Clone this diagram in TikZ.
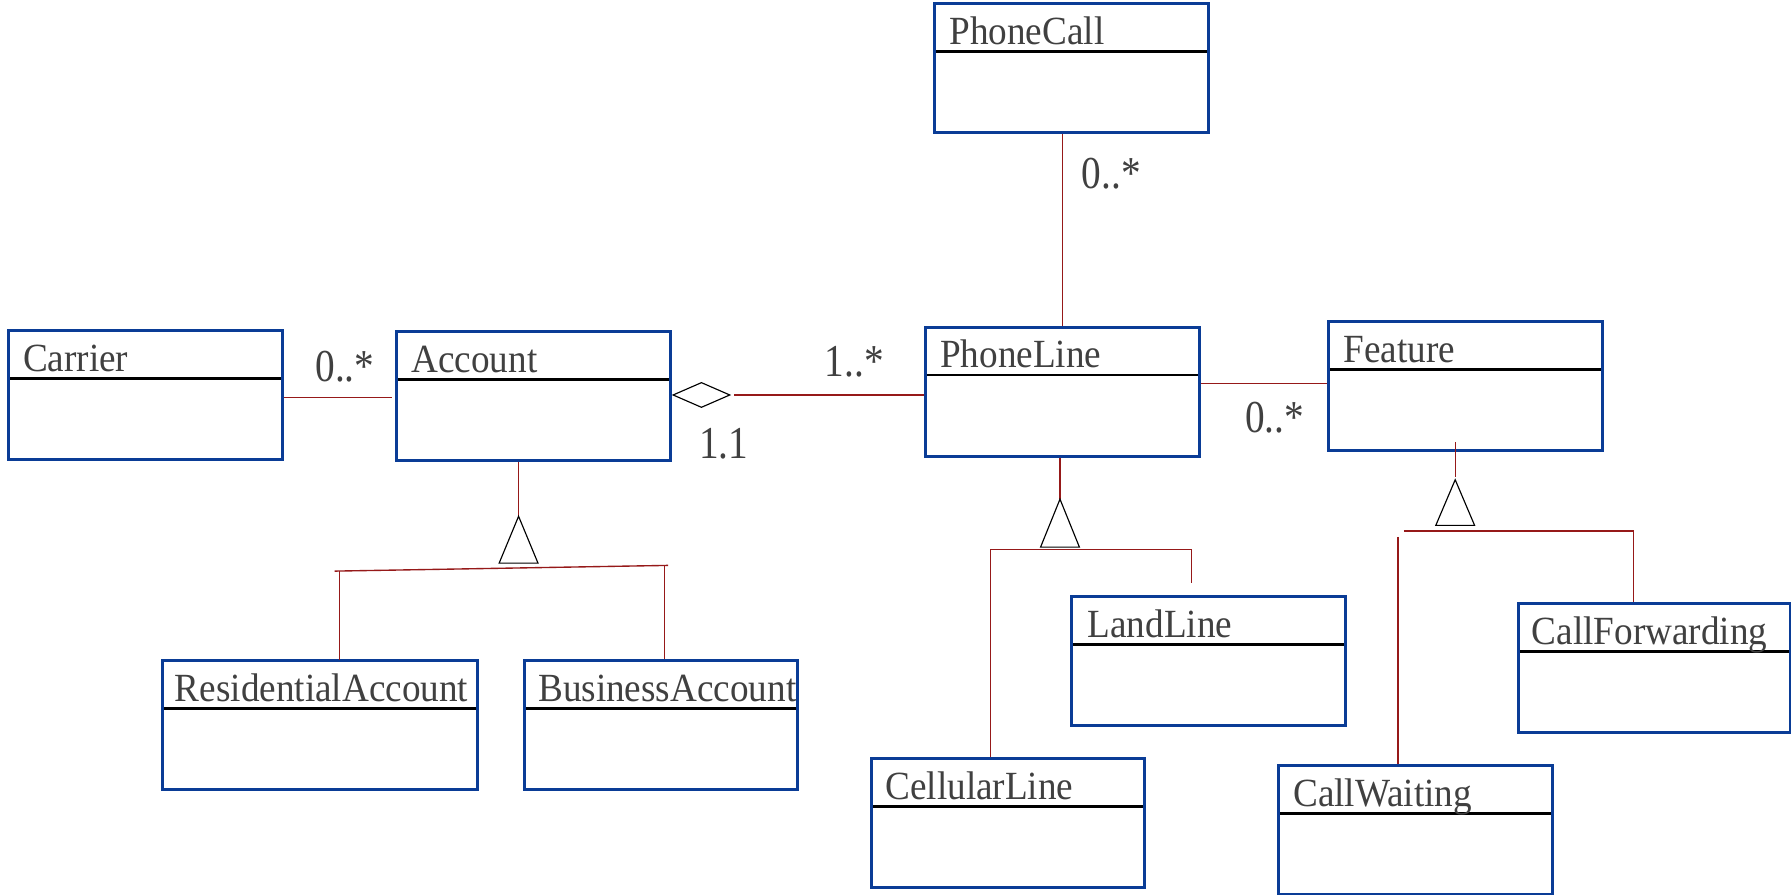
\documentclass[tikz,border=0pt]{standalone}
\usepackage{fontspec}
\setmainfont[FakeStretch=0.93]{Liberation Serif}
\newfontfamily\multfont[FakeStretch=0.86]{Liberation Serif}
\usetikzlibrary{shapes.geometric}
\definecolor{umlblue}{RGB}{10,60,150}
\definecolor{linkred}{RGB}{150,25,25}
\definecolor{txtgray}{RGB}{64,64,64}

\begin{document}
\begin{tikzpicture}[x=1pt,y=-1pt,
	cls/.style={draw=umlblue,line width=2.6pt,anchor=north west,minimum width=240pt,minimum height=113pt,inner sep=0pt,
		path picture={\draw[black,line width=2.6pt] ([yshift=-42pt]path picture bounding box.north west) -- ([yshift=-42pt]path picture bounding box.north east);}},
	ttl/.style={anchor=base west,inner sep=0pt,text=txtgray,font=\fontsize{35}{40}\selectfont},
	mult/.style={anchor=base west,inner sep=0pt,text=txtgray,font=\multfont\fontsize{40}{44}\selectfont},
	assoc/.style={draw=linkred,line width=1.2pt},
	gen/.style={draw=black,line width=1pt,fill=white,line join=miter}]

	\useasboundingbox[fill=white] (0,0) rectangle (1568,783);

	% classes
	\node[cls] (phonecall) at (817,2) {};
	\node[ttl] (phonecall-name) at ([shift={(14pt,-37pt)}]phonecall.north west) {PhoneCall};
	\node[cls] (carrier) at (6,288) {};
	\node[ttl] (carrier-name) at ([shift={(14pt,-37pt)}]carrier.north west) {Carrier};
	\node[cls] (account) at (346,289) {};
	\node[ttl] (account-name) at ([shift={(14pt,-37pt)}]account.north west) {Account};
	\node[cls] (phoneline) at (809,285) {};
	\node[ttl] (phoneline-name) at ([shift={(14pt,-37pt)}]phoneline.north west) {PhoneLine};
	\node[cls] (feature) at (1162,280) {};
	\node[ttl] (feature-name) at ([shift={(14pt,-37pt)}]feature.north west) {Feature};
	\node[cls,minimum width=276pt] (residential) at (141,577) {};
	\node[ttl] (residential-name) at ([shift={(12pt,-37pt)}]residential.north west) {ResidentialAccount};
	\node[cls,minimum width=239pt] (business) at (458,577) {};
	\node[ttl] (business-name) at ([shift={(13pt,-37pt)}]business.north west) {BusinessAccount};
	\node[cls] (landline) at (937,521) {};
	\node[ttl] (landline-name) at ([shift={(15pt,-37pt)}]landline.north west) {LandLine};
	\node[cls,minimum width=238pt] (callfwd) at (1328,527) {};
	\node[ttl] (callfwd-name) at ([shift={(13pt,-37pt)}]callfwd.north west) {CallForwarding};
	\node[cls,minimum width=239pt] (cellular) at (762,663) {};
	\node[ttl] (cellular-name) at ([shift={(13pt,-37pt)}]cellular.north west) {CellularLine};
	\node[cls] (callwait) at (1118,669) {};
	\node[ttl] (callwait-name) at ([shift={(14pt,-37pt)}]callwait.north west) {CallWaiting};

	% associations
	\draw[assoc] (phoneline.north |- phonecall.south) -- (phoneline.north);
	\node[mult] (m-call) at (947,165) {0..*};

	\coordinate (ca-end) at (343,348);
	\draw[assoc] (carrier.east |- ca-end) -- (ca-end);
	\node[mult] (m-carrier) at (276,334) {0..*};

	\node[diamond,draw,line width=1pt,fill=white,minimum width=50pt,minimum height=22pt,inner sep=0pt,anchor=west] (agg) at ([yshift=1pt]account.east) {};
	\draw[assoc] ([xshift=3pt]agg.east) -- (phoneline.west |- agg.east);
	\node[mult] (m-line) at (722,330) {1..*};
	\node[mult] (m-acct) at (612,401) {1.1};

	\coordinate (pf-end) at (1162,336);
	\draw[assoc] (phoneline.east |- pf-end) -- (pf-end);
	\node[mult] (m-feature) at (1090,379) {0..*};

	% generalization: Account
	\coordinate (acc-tip) at (454,452);
	\coordinate (acc-bus-l) at (293,500);
	\coordinate (acc-bus-r) at (585,495);
	\coordinate (acc-drop-l) at (297,500);
	\coordinate (acc-drop-r) at (582,495);
	\draw[assoc] (acc-tip |- account.south) -- (acc-tip);
	\draw[gen] (acc-tip) -- ++(-17,41) -- ++(34,0) -- cycle;
	\draw[assoc] (acc-bus-l) -- (acc-bus-r);
	\draw[assoc] (acc-drop-l) -- ([yshift=-1pt]acc-drop-l |- residential.north);
	\draw[assoc] (acc-drop-r) -- (acc-drop-r |- business.north);

	% generalization: PhoneLine
	\coordinate (pl-tip) at (928,437);
	\coordinate (pl-bus-l) at (867,481);
	\coordinate (pl-bus-r) at (1043,481);
	\coordinate (ll-top) at ([yshift=11pt]landline.north);
	\draw[assoc] (pl-tip |- phoneline.south) -- (pl-tip);
	\draw[gen] (pl-tip) -- ++(-17,42) -- ++(34,0) -- cycle;
	\draw[assoc] (pl-bus-l |- cellular.north) -- (pl-bus-l) -- (pl-bus-r) -- (pl-bus-r |- ll-top);

	% generalization: Feature
	\coordinate (ft-stem) at (1274,387);
	\coordinate (ft-tip) at (1274,420);
	\coordinate (ft-bus-l) at (1229,465);
	\coordinate (ft-bus-r) at (1430,465);
	\coordinate (ft-drop-l) at (1224,470);
	\draw[assoc] (ft-stem) -- ([yshift=2pt]ft-tip);
	\draw[gen] (ft-tip) -- ++(-17,40) -- ++(34,0) -- cycle;
	\draw[assoc] (ft-bus-l) -- (ft-bus-r) -- (ft-bus-r |- callfwd.north);
	\draw[assoc] (ft-drop-l) -- (ft-drop-l |- callwait.north);

\end{tikzpicture}
\end{document}
